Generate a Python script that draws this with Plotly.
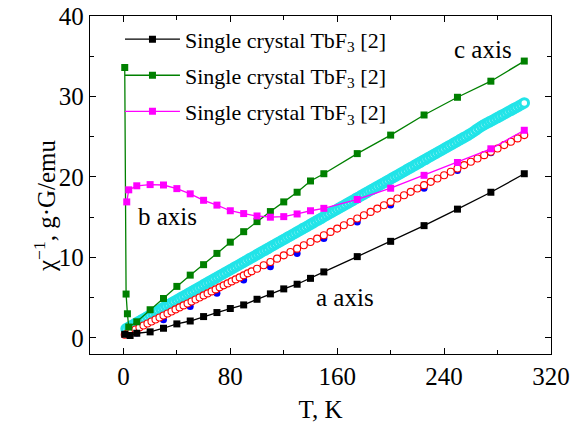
import plotly.graph_objects as go

# ---- data ----
legend_name = "Single crystal TbF<sub>3</sub> [2]"

# a axis (black squares)
T_a = [1, 5, 10, 20, 30, 40, 50, 60, 70, 80, 90, 100, 110, 120, 130, 140, 150, 175, 200, 225, 250, 275, 300]
Y_a = [0.45, 0.3, 0.58, 0.75, 1.2, 1.74, 2.1, 2.65, 3.15, 3.65, 4.1, 4.8, 5.47, 6.09, 6.67, 7.4, 8.2, 10.1, 12.0, 13.95, 16.0, 18.1, 20.4]

# c axis (green squares)
T_c = [1, 2, 3, 4, 10, 20, 30, 40, 50, 60, 70, 80, 90, 100, 110, 120, 130, 140, 150, 175, 200, 225, 250, 275, 300]
Y_c = [33.6, 5.45, 3.0, 1.35, 2.0, 3.5, 4.9, 6.4, 7.8, 9.1, 10.5, 11.9, 13.2, 14.45, 15.7, 16.9, 18.1, 19.5, 20.4, 22.9, 25.2, 27.7, 29.9, 31.9, 34.4]

# b axis (magenta squares)
T_b = [2.5, 4, 10, 20, 30, 40, 50, 60, 70, 80, 90, 100, 110, 120, 130, 140, 150, 175, 200, 225, 250, 275, 300]
Y_b = [16.9, 18.4, 18.9, 19.05, 19.0, 18.55, 17.9, 17.1, 16.5, 15.8, 15.45, 15.15, 15.0, 15.07, 15.4, 15.8, 16.1, 17.2, 18.6, 20.2, 21.8, 23.5, 25.8]

# cyan circles (dense)
T_cy = [2, 4, 6, 8, 10, 12, 14, 16, 18, 20, 22, 24, 26, 28, 30, 32, 34, 36, 38, 40,
        42, 44, 46, 48, 50, 52, 54, 56, 58, 60, 62, 64, 66, 68, 70, 72, 74, 76, 78, 80,
        82, 84, 86, 88, 90, 92, 94, 96, 98, 100, 102, 104, 106, 108, 110, 112, 114, 116, 118, 120,
        122, 124, 126, 128, 130, 132, 134, 136, 138, 140, 142, 144, 146, 148, 150,
        152, 154, 156, 158, 160, 162, 164, 166, 168, 170, 172, 174, 176, 178, 180,
        182, 184, 186, 188, 190, 192, 194, 196, 198, 200, 202, 204, 206, 208, 210,
        212, 214, 216, 218, 220, 222, 224, 226, 228, 230, 232, 234, 236, 238, 240,
        242, 244, 246, 248, 250, 252, 254, 256, 258, 260, 262, 264, 266, 268, 270,
        272, 274, 276, 278, 280, 282, 284, 286, 288, 290, 292, 294, 296, 298, 300]
Y_cy = [1.14, 1.33, 1.51, 1.7, 1.89, 2.08, 2.27, 2.45, 2.64, 2.83, 3.02, 3.21, 3.39, 3.58, 3.77, 3.96, 4.15, 4.33, 4.52, 4.71,
        4.9, 5.09, 5.27, 5.46, 5.65, 5.84, 6.03, 6.21, 6.4, 6.59, 6.78, 6.97, 7.15, 7.34, 7.53, 7.72, 7.91, 8.09, 8.28, 8.47,
        8.66, 8.85, 9.03, 9.22, 9.41, 9.6, 9.79, 9.97, 10.16, 10.35, 10.54, 10.73, 10.91, 11.1, 11.29, 11.48, 11.67, 11.85, 12.04, 12.23,
        12.42, 12.61, 12.79, 12.98, 13.17, 13.36, 13.55, 13.73, 13.92, 14.11, 14.3, 14.49, 14.67, 14.86, 15.05,
        15.24, 15.43, 15.61, 15.8, 15.99, 16.18, 16.37, 16.55, 16.74, 16.93, 17.12, 17.31, 17.49, 17.68, 17.87,
        18.06, 18.25, 18.43, 18.62, 18.81, 19.0, 19.19, 19.37, 19.56, 19.75, 19.94, 20.13, 20.31, 20.5, 20.69,
        20.88, 21.07, 21.25, 21.44, 21.63, 21.82, 22.01, 22.19, 22.38, 22.57, 22.76, 22.95, 23.13, 23.32, 23.51,
        23.7, 23.89, 24.07, 24.26, 24.45, 24.64, 24.83, 25.01, 25.2, 25.4, 25.62, 25.85, 26.08, 26.3, 26.5,
        26.68, 26.85, 27.02, 27.2, 27.38, 27.56, 27.74, 27.92, 28.1, 28.28, 28.46, 28.64, 28.82, 29.0, 29.2]

# blue filled circles (sparse, under red)
T_bl = [10, 30, 50, 70, 90, 110, 130, 150, 175, 200, 225, 250, 275, 300]
Y_bl = [0.6, 2.25, 3.9, 5.55, 7.2, 8.85, 10.5, 12.35, 14.4, 16.5, 18.6, 20.8, 23.0, 25.25]

# red open circles (dense)
T_r = [1, 3, 6, 9, 12, 15, 18, 21, 24, 27, 30, 33, 36, 39, 42, 45, 48, 51, 54, 57, 60, 63, 66, 69, 72, 75, 78, 81,
       84, 87, 90, 93, 96, 100, 105, 110, 115, 120, 125, 130, 135, 140, 145, 150, 155, 160, 165, 170, 175, 180,
       185, 190, 195, 200, 205, 210, 215, 220, 225, 230, 235, 240, 245, 250, 255, 260, 265, 270, 275, 280, 285,
       290, 295, 300]
Y_r = [0.4, 0.55, 0.8, 1.05, 1.3, 1.55, 1.79, 2.04, 2.29, 2.54, 2.79, 3.04, 3.29, 3.54, 3.79, 4.04, 4.28, 4.53, 4.78,
       5.03, 5.28, 5.53, 5.78, 6.03, 6.28, 6.53, 6.77, 7.02, 7.27, 7.52, 7.77, 8.02, 8.27, 8.6, 9.02, 9.43, 9.85,
       10.26, 10.68, 11.09, 11.51, 11.92, 12.34, 12.75, 13.17, 13.58, 14.0, 14.41, 14.83, 15.24, 15.66, 16.07,
       16.49, 16.9, 17.32, 17.73, 18.15, 18.56, 18.98, 19.39, 19.81, 20.22, 20.64, 21.05, 21.47, 21.88, 22.3,
       22.71, 23.13, 23.54, 23.96, 24.37, 24.79, 25.2]

x_ticks = [0, 80, 160, 240, 320]
y_ticks = [0, 10, 20, 30, 40]

FONT = "Liberation Serif"

fig = go.Figure()

fig.add_trace(go.Scatter(x=T_cy, y=Y_cy, mode="markers", showlegend=False,
                         marker=dict(symbol="circle", size=8.5, color="white",
                                     line=dict(color="#22e4e8", width=3.0))))
fig.add_trace(go.Scatter(x=T_bl, y=Y_bl, mode="markers", showlegend=False,
                         marker=dict(symbol="circle", size=7, color="#0000ff")))
fig.add_trace(go.Scatter(x=T_r, y=Y_r, mode="markers", showlegend=False,
                         marker=dict(symbol="circle", size=7, color="white",
                                     line=dict(color="#ff0000", width=1.1))))

fig.add_trace(go.Scatter(x=T_a, y=Y_a, mode="lines+markers", name=legend_name,
                         legendgroup="a",
                         line=dict(color="black", width=1.3),
                         marker=dict(symbol="square", size=7, color="black")))
fig.add_trace(go.Scatter(x=T_c, y=Y_c, mode="lines+markers", name=legend_name,
                         legendgroup="c",
                         line=dict(color="#008000", width=1.3),
                         marker=dict(symbol="square", size=7, color="#008000")))
fig.add_trace(go.Scatter(x=T_b, y=Y_b, mode="lines+markers", name=legend_name,
                         legendgroup="b",
                         line=dict(color="#ff00ff", width=1.3),
                         marker=dict(symbol="square", size=7, color="#ff00ff")))

fig.add_annotation(x=269, y=35.8, text="c axis", showarrow=False,
                   font=dict(family=FONT, size=25, color="black"))
fig.add_annotation(x=32.7, y=15.1, text="b axis", showarrow=False,
                   font=dict(family=FONT, size=25, color="black"))
fig.add_annotation(x=166, y=5.0, text="a axis", showarrow=False,
                   font=dict(family=FONT, size=25, color="black"))
# y-axis title (placed as rotated text so it can sit right next to the tick labels)
fig.add_annotation(x=-0.098, y=0.44, xref="paper", yref="paper", xanchor="center", yanchor="middle",
                   text="χ<sup>−1</sup>, g·G/emu", textangle=-90, showarrow=False,
                   font=dict(family=FONT, size=25, color="black"))

axis_common = dict(showgrid=False, zeroline=False, showline=True, linecolor="black",
                   linewidth=1.3, mirror="ticks", ticks="inside", ticklen=6,
                   tickwidth=1.1, tickcolor="black", automargin=False,
                   ticklabeloverflow="allow",
                   tickfont=dict(family=FONT, size=25, color="black"))

fig.update_xaxes(range=[-25, 320], tickvals=x_ticks, ticktext=[str(v) for v in x_ticks],
                 minor=dict(ticks="inside", ticklen=3.5, tickwidth=1.1, tickcolor="black",
                            tickvals=[40, 120, 200, 280]),
                 title=dict(text="T, K", font=dict(family=FONT, size=25, color="black"), standoff=12),
                 **axis_common)
fig.update_yaxes(range=[-2, 40], tickvals=y_ticks, ticktext=[str(v) for v in y_ticks],
                 minor=dict(ticks="inside", ticklen=3.5, tickwidth=1.1, tickcolor="black",
                            tickvals=[5, 15, 25, 35]),
                 **axis_common)

fig.update_layout(width=583, height=423,
                  margin=dict(l=90, r=32, t=16, b=69),
                  plot_bgcolor="white", paper_bgcolor="white",
                  font=dict(family=FONT, color="black"),
                  legend=dict(x=0.065, y=0.993, xanchor="left", yanchor="top",
                              bgcolor="rgba(0,0,0,0)", borderwidth=0,
                              font=dict(family=FONT, size=22, color="black"),
                              tracegroupgap=4.5, itemwidth=55))

# remove the browser's default 8 px page margin so the figure sits at the window's corner
fig.write_html("out.html", config={"displayModeBar": False},
               post_script="document.body.style.margin='0';")
